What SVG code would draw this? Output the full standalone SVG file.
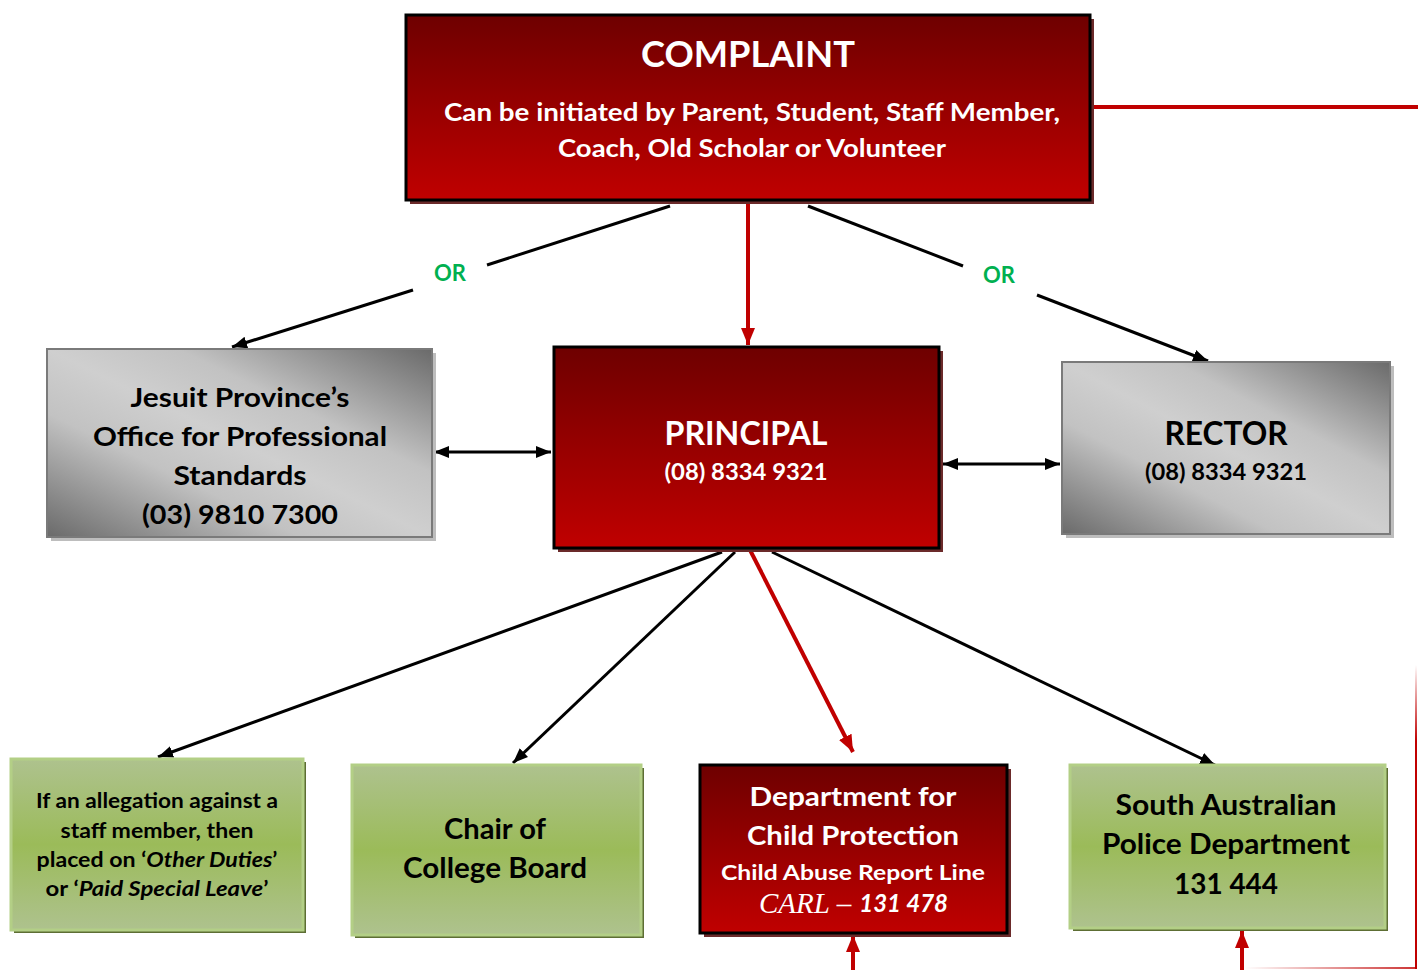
<svg xmlns="http://www.w3.org/2000/svg" width="1418" height="970" viewBox="0 0 1418 970">
<style>
.t{font-family:Lato,"Open Sans","Liberation Sans",sans-serif;font-weight:bold;text-anchor:middle}
.w{fill:#ffffff}
.k{fill:#000000}
.or{fill:#00b050;font-size:22px}
.blk{stroke:#000;stroke-width:3;fill:none}
.red{stroke:#c00000;stroke-width:4;fill:none}
</style>
<defs>
<linearGradient id="gRed" x1="0" y1="0" x2="0" y2="1">
<stop offset="0" stop-color="#6e0000"/>
<stop offset="1" stop-color="#c00000"/>
</linearGradient>
<linearGradient id="gGray" x1="1" y1="0" x2="0" y2="1">
<stop offset="0" stop-color="#6a6a6a"/>
<stop offset="0.33" stop-color="#c2c2c2"/>
<stop offset="0.5" stop-color="#cfcfcf"/>
<stop offset="0.67" stop-color="#c2c2c2"/>
<stop offset="1" stop-color="#6a6a6a"/>
</linearGradient>
<linearGradient id="gGreen" x1="0" y1="0" x2="0" y2="1">
<stop offset="0" stop-color="#aec28e"/>
<stop offset="0.5" stop-color="#9bbb59"/>
<stop offset="1" stop-color="#aec28e"/>
</linearGradient>
<linearGradient id="gFadeV" x1="0" y1="0" x2="0" y2="1">
<stop offset="0" stop-color="#c00000" stop-opacity="0"/>
<stop offset="0.25" stop-color="#c00000" stop-opacity="1"/>
<stop offset="1" stop-color="#c00000" stop-opacity="1"/>
</linearGradient>
<linearGradient id="gFadeH" x1="0" y1="0" x2="1" y2="0">
<stop offset="0" stop-color="#c00000" stop-opacity="0"/>
<stop offset="1" stop-color="#c00000" stop-opacity="0.8"/>
</linearGradient>
<marker id="aK" markerUnits="userSpaceOnUse" markerWidth="16" markerHeight="14" refX="15" refY="7" orient="auto-start-reverse">
<path d="M0,1 L15,7 L0,13 Z" fill="#000"/>
</marker>
<marker id="aR" markerUnits="userSpaceOnUse" markerWidth="18" markerHeight="16" refX="17" refY="8" orient="auto-start-reverse">
<path d="M0,1 L17,8 L0,15 Z" fill="#c00000"/>
</marker>
</defs>
<rect width="1418" height="970" fill="#ffffff"/>

<g id="connectors">
<line class="red" x1="1094" y1="107" x2="1418" y2="107"/>
<line class="red" x1="748" y1="204" x2="748" y2="345" stroke-width="3" marker-end="url(#aR)"/>
<line class="blk" x1="670" y1="206" x2="487" y2="265"/>
<line class="blk" x1="413" y1="290" x2="232" y2="347" marker-end="url(#aK)"/>
<line class="blk" x1="808" y1="206" x2="963" y2="266"/>
<line class="blk" x1="1037" y1="295" x2="1208" y2="361" marker-end="url(#aK)"/>
<line class="blk" x1="434" y1="452" x2="551" y2="452" marker-start="url(#aK)" marker-end="url(#aK)"/>
<line class="blk" x1="943" y1="464" x2="1060" y2="464" marker-start="url(#aK)" marker-end="url(#aK)"/>
<line class="blk" x1="722" y1="552" x2="158" y2="757" marker-end="url(#aK)"/>
<line class="blk" x1="735" y1="552" x2="513" y2="763" marker-end="url(#aK)"/>
<line class="red" x1="750" y1="550" x2="853" y2="752" marker-end="url(#aR)"/>
<line class="blk" x1="772" y1="552" x2="1215" y2="765" marker-end="url(#aK)"/>
<line class="red" x1="853" y1="970" x2="853" y2="935" marker-end="url(#aR)"/>
<line class="red" x1="1242" y1="970" x2="1242" y2="931" marker-end="url(#aR)"/>
<rect x="1415" y="665" width="2" height="304" fill="url(#gFadeV)"/>
<rect x="1245" y="967" width="172" height="2" fill="url(#gFadeH)"/>
<text class="t or" x="450" y="281">OR</text>
<text class="t or" x="999" y="283">OR</text>
</g>

<g id="complaint">
<rect x="410" y="19" width="684" height="185" fill="#6b2a2a"/>
<rect x="406" y="15" width="684" height="185" fill="url(#gRed)" stroke="#000" stroke-width="3"/>
<text class="t w" x="748" y="67" font-size="37" textLength="214" lengthAdjust="spacingAndGlyphs">COMPLAINT</text>
<text class="t w" x="752" y="121" font-size="25" textLength="616" lengthAdjust="spacingAndGlyphs">Can be initiated by Parent, Student, Staff Member,</text>
<text class="t w" x="752" y="157" font-size="25" textLength="388" lengthAdjust="spacingAndGlyphs">Coach, Old Scholar or Volunteer</text>
</g>

<g id="jesuit">
<rect x="51" y="353" width="385" height="188" fill="#bdbdbd"/>
<rect x="47" y="349" width="385" height="188" fill="url(#gGray)" stroke="#7a7a7a" stroke-width="2"/>
<text class="t k" x="240" y="407" font-size="27" textLength="219" lengthAdjust="spacingAndGlyphs">Jesuit Province’s</text>
<text class="t k" x="240" y="446" font-size="27" textLength="294" lengthAdjust="spacingAndGlyphs">Office for Professional</text>
<text class="t k" x="240" y="485" font-size="27" textLength="133" lengthAdjust="spacingAndGlyphs">Standards</text>
<text class="t k" x="240" y="524" font-size="27" textLength="196" lengthAdjust="spacingAndGlyphs">(03) 9810 7300</text>
</g>

<g id="principal">
<rect x="558" y="351" width="385" height="201" fill="#6b2a2a"/>
<rect x="554" y="347" width="385" height="201" fill="url(#gRed)" stroke="#000" stroke-width="3"/>
<text class="t w" x="746" y="445" font-size="32" textLength="163" lengthAdjust="spacingAndGlyphs">PRINCIPAL</text>
<text class="t w" x="746" y="480" font-size="23" textLength="163" lengthAdjust="spacingAndGlyphs">(08) 8334 9321</text>
</g>

<g id="rector">
<rect x="1066" y="366" width="328" height="172" fill="#bdbdbd"/>
<rect x="1062" y="362" width="328" height="172" fill="url(#gGray)" stroke="#7a7a7a" stroke-width="2"/>
<text class="t k" x="1226" y="445" font-size="32" textLength="123" lengthAdjust="spacingAndGlyphs">RECTOR</text>
<text class="t k" x="1226" y="480" font-size="23" textLength="162" lengthAdjust="spacingAndGlyphs">(08) 8334 9321</text>
</g>

<g id="allegation">
<rect x="14" y="762" width="292" height="171" fill="#5d6e34"/>
<rect x="11" y="759" width="292" height="171" fill="url(#gGreen)" stroke="#b3cf86" stroke-width="3"/>
<text class="t k" x="157" y="808" font-size="20" textLength="242" lengthAdjust="spacingAndGlyphs">If an allegation against a</text>
<text class="t k" x="157" y="838" font-size="20" textLength="193" lengthAdjust="spacingAndGlyphs">staff member, then</text>
<text class="t k" x="157" y="867" font-size="21" textLength="241" lengthAdjust="spacingAndGlyphs">placed on ‘<tspan font-style="italic">Other Duties</tspan>’</text>
<text class="t k" x="157" y="896" font-size="21" textLength="223" lengthAdjust="spacingAndGlyphs">or ‘<tspan font-style="italic">Paid Special Leave</tspan>’</text>
</g>

<g id="chair">
<rect x="355" y="768" width="289" height="170" fill="#5d6e34"/>
<rect x="352" y="765" width="289" height="170" fill="url(#gGreen)" stroke="#b3cf86" stroke-width="3"/>
<text class="t k" x="495" y="839" font-size="28" textLength="102" lengthAdjust="spacingAndGlyphs">Chair of</text>
<text class="t k" x="495" y="878" font-size="28" textLength="184" lengthAdjust="spacingAndGlyphs">College Board</text>
</g>

<g id="dcp">
<rect x="704" y="769" width="307" height="168" fill="#6b2a2a"/>
<rect x="700" y="765" width="307" height="168" fill="url(#gRed)" stroke="#000" stroke-width="3"/>
<text class="t w" x="853" y="806" font-size="27" textLength="207" lengthAdjust="spacingAndGlyphs">Department for</text>
<text class="t w" x="853" y="845" font-size="27" textLength="212" lengthAdjust="spacingAndGlyphs">Child Protection</text>
<text class="t w" x="853" y="880" font-size="21" textLength="264" lengthAdjust="spacingAndGlyphs">Child Abuse Report Line</text>
<text x="759" y="913" font-family="'Liberation Serif','Times New Roman',serif" font-style="italic" font-size="29" fill="#ffffff">CARL –</text>
<text x="948" y="912" font-family="Lato,'Open Sans','Liberation Sans',sans-serif" font-weight="bold" font-style="italic" font-size="24" fill="#ffffff" text-anchor="end">131 478</text>
</g>

<g id="police">
<rect x="1073" y="768" width="315" height="163" fill="#5d6e34"/>
<rect x="1070" y="765" width="315" height="163" fill="url(#gGreen)" stroke="#b3cf86" stroke-width="3"/>
<text class="t k" x="1226" y="815" font-size="28" textLength="221" lengthAdjust="spacingAndGlyphs">South Australian</text>
<text class="t k" x="1226" y="854" font-size="28" textLength="248" lengthAdjust="spacingAndGlyphs">Police Department</text>
<text class="t k" x="1226" y="894" font-size="28" textLength="104" lengthAdjust="spacingAndGlyphs">131 444</text>
</g>
</svg>
